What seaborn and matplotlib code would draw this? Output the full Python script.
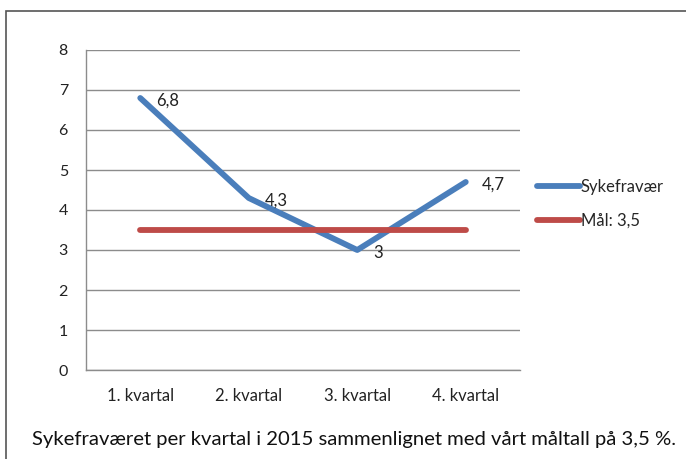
import matplotlib
matplotlib.use("Agg")
import matplotlib.pyplot as plt
from matplotlib.patches import Rectangle
from matplotlib.lines import Line2D
import seaborn as sns
import pandas as pd

# Data
quarters = ["1. kvartal", "2. kvartal", "3. kvartal", "4. kvartal"]
sick_leave = [6.8, 4.3, 3.0, 4.7]
sick_labels = ["6,8", "4,3", "3", "4,7"]
target = [3.5, 3.5, 3.5, 3.5]
series_names = ["Sykefravær", "Mål: 3,5"]
y_ticks = [0, 1, 2, 3, 4, 5, 6, 7, 8]
caption = "Sykefraværet per kvartal i 2015 sammenlignet med vårt måltall på 3,5 %."

blue = "#4A7EBB"
red = "#BE4B48"
grid_col = "#8C8C8C"
txt_col = "#222222"

df = pd.DataFrame({
    "Kvartal": list(range(len(quarters))) * 2,
    "Verdi": sick_leave + target,
    "Serie": [series_names[0]] * 4 + [series_names[1]] * 4,
})

sns.set_theme(style="white")
plt.rcParams["font.family"] = ["Lato", "DejaVu Sans"]

W, H = 686, 459
fig = plt.figure(figsize=(W / 100, H / 100), dpi=100)
ax = fig.add_axes([86 / W, 89 / H, (520 - 86) / W, (370 - 50) / H])

sns.lineplot(data=df, x="Kvartal", y="Verdi", hue="Serie",
             palette={series_names[0]: blue, series_names[1]: red},
             linewidth=4.2, ax=ax, legend=False, solid_capstyle="round")

ax.set_xlim(-0.5, len(quarters) - 0.5)
ax.set_ylim(0, 8)
ax.set_yticks(y_ticks)
ax.set_yticklabels([str(t) for t in y_ticks], fontsize=11.5, color=txt_col)
ax.yaxis.grid(True, color=grid_col, linewidth=1)
ax.set_axisbelow(True)

# category labels centred, tick marks on boundaries
ax.set_xticks(range(len(quarters)))
ax.set_xticklabels(quarters, fontsize=12, color=txt_col)
ax.set_xticks([i - 0.5 for i in range(len(quarters) + 1)], minor=True)
ax.tick_params(axis="x", which="major", length=0, pad=13)
ax.tick_params(axis="x", which="minor", length=5, color=grid_col, direction="out")
ax.tick_params(axis="y", length=5, color=grid_col, direction="out", pad=8)
ax.set_xlabel("")
ax.set_ylabel("")

for side in ["top", "right"]:
    ax.spines[side].set_visible(False)
for side in ["left", "bottom"]:
    ax.spines[side].set_color(grid_col)
    ax.spines[side].set_linewidth(1)

# data labels, a little to the right of each point
for i, (v, lab) in enumerate(zip(sick_leave, sick_labels)):
    ax.annotate(lab, (i, v), xytext=(11.5, -2), textcoords="offset points",
                fontsize=12, color=txt_col, va="center", ha="left")

handles = [Line2D([], [], color=blue, lw=4.2, solid_capstyle="round"),
           Line2D([], [], color=red, lw=4.2, solid_capstyle="round")]
fig.legend(handles, series_names, loc="center left",
           bbox_to_anchor=(530 / W, 1 - 204 / H), frameon=False,
           handlelength=2.6, handletextpad=0.05, labelspacing=1.05,
           fontsize=12, borderaxespad=0)

# outer frame (cut off at right and bottom like the source)
fig.add_artist(Rectangle((6 / W, -0.1), 1.0, 1 - 11 / H + 0.1, fill=False,
                         transform=fig.transFigure, lw=1.2, ec="#555555"))

fig.text(32 / W, 1 - 440 / H, caption, fontsize=14.6, va="center", ha="left",
         color="#111111")

fig.savefig("out.png", dpi=100)
